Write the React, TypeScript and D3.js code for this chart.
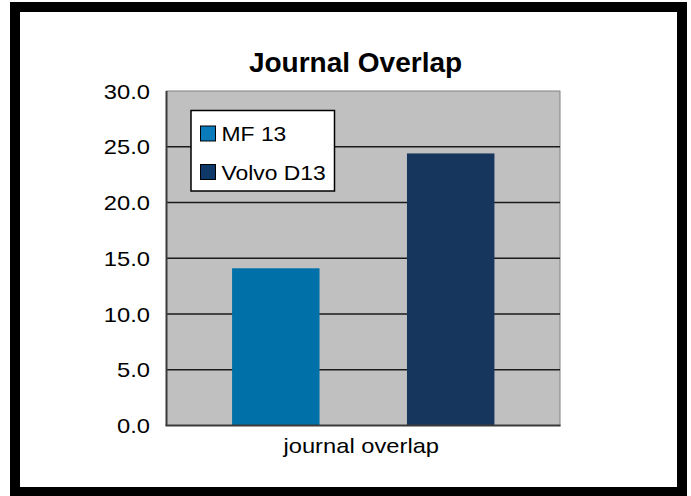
import React from "react";
import * as d3 from "d3";

const categories = ["journal overlap"];
const seriesNames = ["MF 13", "Volvo D13"];
const seriesValues = [[14.1], [24.4]];
const seriesColors = ["#0070A9", "#17365D"];
const swatchColors = ["#0A7BBA", "#0D3868"];
const yTicks = [0, 5, 10, 15, 20, 25, 30];
const title = "Journal Overlap";

const W = 691;
const H = 496;
const plot = { left: 166.5, right: 560, top: 91, bottom: 425.5 };
const FONT = "'Liberation Sans', Arial, Helvetica, sans-serif";
const SX = 1.13;

export default function App() {
  const y = d3.scaleLinear().domain([0, 30]).range([plot.bottom, plot.top]);
  const x0 = d3.scaleBand<string>().domain(categories).range([plot.left, plot.right]).padding(0);
  const x1 = d3
    .scaleBand<string>()
    .domain(seriesNames)
    .range([0, x0.bandwidth()])
    .paddingInner(0.5)
    .paddingOuter(0.375);

  const fmt = d3.format(".1f");

  return (
    <svg
      width={W}
      height={H}
      style={{ position: "absolute", left: 0, top: 0, background: "#fff" }}
      fontFamily={FONT}
    >
      <rect x={15} y={7} width={667} height={485} fill="#fff" stroke="#000" strokeWidth={10} />

      <text x={355.5} y={71.5} textAnchor="middle" fontSize={28} fontWeight="bold" fill="#000">
        {title}
      </text>

      {/* plot background */}
      <rect
        x={plot.left}
        y={plot.top}
        width={plot.right - plot.left}
        height={plot.bottom - plot.top}
        fill="#C0C0C0"
        stroke="#808080"
        strokeWidth={1}
      />

      {/* gridlines */}
      {yTicks.slice(1, -1).map((t) => (
        <line key={t} x1={plot.left} x2={plot.right} y1={y(t)} y2={y(t)} stroke="#1a1a1a" strokeWidth={1.3} />
      ))}

      {/* bars */}
      {categories.map((c, ci) =>
        seriesNames.map((s, si) => {
          const v = seriesValues[si][ci];
          const bx = (x0(c) ?? 0) + (x1(s) ?? 0);
          return (
            <rect
              key={c + s}
              x={bx}
              y={y(v)}
              width={x1.bandwidth()}
              height={y(0) - y(v)}
              fill={seriesColors[si]}
            />
          );
        })
      )}

      {/* axes lines */}
      <line x1={plot.left} x2={plot.left} y1={plot.top} y2={plot.bottom} stroke="#3a3a3a" strokeWidth={2} />
      <line x1={plot.left - 1} x2={plot.right + 0.5} y1={plot.bottom} y2={plot.bottom} stroke="#3a3a3a" strokeWidth={2} />

      {/* y tick labels */}
      {yTicks.map((t) => (
        <g key={t} transform={`translate(150, ${y(t) + 7.5}) scale(${SX},1)`}>
          <text textAnchor="end" fontSize={21} fill="#000">
            {fmt(t)}
          </text>
        </g>
      ))}

      {/* x category label */}
      {categories.map((c) => (
        <g key={c} transform={`translate(${(x0(c) ?? 0) + x0.bandwidth() / 2 - 2}, 452.5) scale(${SX},1)`}>
          <text textAnchor="middle" fontSize={21} fill="#000">
            {c}
          </text>
        </g>
      ))}

      {/* legend */}
      <rect x={191} y={110.5} width={143.5} height={80.5} fill="#fff" stroke="#000" strokeWidth={1.5} />
      {seriesNames.map((s, i) => (
        <g key={s}>
          <rect
            x={200.5}
            y={126 + i * 38.5}
            width={15}
            height={15}
            fill={swatchColors[i]}
            stroke="#000"
            strokeWidth={1}
          />
          <g transform={`translate(221.5, ${141 + i * 38.8}) scale(1.09,1)`}>
            <text fontSize={21} fill="#000">
              {s}
            </text>
          </g>
        </g>
      ))}
    </svg>
  );
}
